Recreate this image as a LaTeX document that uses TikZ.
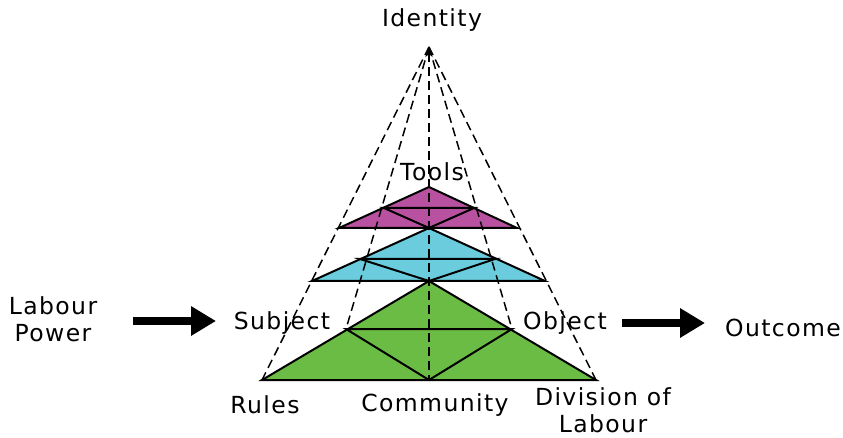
\documentclass[tikz,border=0pt]{standalone}
\usepackage{fontspec}
\setmainfont{DejaVu Sans}[LetterSpace=6]
\usetikzlibrary{arrows.meta}

\definecolor{toolpink}{RGB}{184,82,160}
\definecolor{midcyan}{RGB}{106,204,221}
\definecolor{basegreen}{RGB}{106,188,69}

\tikzset{
  lbl/.style={font=\fontsize{23.5}{26.5}\selectfont, align=center, inner sep=0pt},
  tri/.style={draw=black, line width=2pt, line join=miter},
  guide/.style={line width=1.5pt, dash pattern=on 9pt off 5pt},
  bigarrow/.style={line width=8pt, -{Triangle[length=25pt,width=28pt]}}
}

\begin{document}
\begin{tikzpicture}[x=1pt,y=-1pt]
  \useasboundingbox (0,0) rectangle (843,438);

  % Apex
  \coordinate (apex) at (429,47);

  % Green triangle
  \coordinate (gL) at (262,380);
  \coordinate (gR) at (596,380);
  \coordinate (gT) at (429,281);
  \coordinate (gML) at (346,329);
  \coordinate (gMR) at (512,329);
  \coordinate (gB) at (429,380);
  \filldraw[tri, fill=basegreen] (gL) -- (gT) -- (gR) -- cycle;
  \draw[tri] (gML) -- (gMR) -- (gB) -- cycle;

  % Cyan triangle
  \coordinate (cL) at (312,281);
  \coordinate (cR) at (545,281);
  \coordinate (cT) at (429,228);
  \coordinate (cML) at (360,259);
  \coordinate (cMR) at (495,259);
  \coordinate (cB) at (429,281);
  \filldraw[tri, fill=midcyan] (cL) -- (cT) -- (cR) -- cycle;
  \draw[tri] (cML) -- (cMR) -- (cB) -- cycle;

  % Pink triangle
  \coordinate (pL) at (339,228);
  \coordinate (pR) at (517,228);
  \coordinate (pT) at (429,187);
  \coordinate (pML) at (384,208);
  \coordinate (pMR) at (474,208);
  \coordinate (pB) at (429,228);
  \filldraw[tri, fill=toolpink] (pL) -- (pT) -- (pR) -- cycle;
  \draw[tri] (pML) -- (pMR) -- (pB) -- cycle;

  % Dashed guides to the apex
  \draw[guide] (apex) -- (gL);
  \draw[guide] (apex) -- (gML);
  \draw[guide] (apex) -- (gMR);
  \draw[guide] (apex) -- (gR);
  \draw[guide, {Stealth[length=10pt,width=7pt]}-] (apex) -- (gB);

  % Labels
  \node[lbl] (identity) at (432,20) {Identity};
  \node[lbl] (tools) at (432,172) {Tools};
  \node[lbl] (subject) at (282,323) {Subject};
  \node[lbl] (object) at (565,323) {Object};
  \node[lbl] (rules) at (265,405) {Rules};
  \node[lbl] (community) at (435,405) {Community};
  \node[lbl] (division) at (603,410) {Division of\\Labour};
  \node[lbl] (labour) at (53,319) {Labour\\Power};
  \node[lbl] (outcome) at (783,328) {Outcome};

  % Input and output arrows
  \coordinate (inStart) at (133,321);
  \coordinate (inEnd) at (216,321);
  \coordinate (outStart) at (622,323);
  \coordinate (outEnd) at (705,323);
  \draw[bigarrow] (inStart) -- (inEnd);
  \draw[bigarrow] (outStart) -- (outEnd);
\end{tikzpicture}
\end{document}
